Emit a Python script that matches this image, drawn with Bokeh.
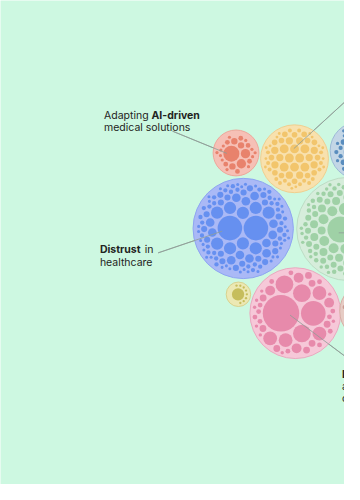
import math
import numpy as np
from bokeh.plotting import figure
from bokeh.models import Range1d, ColumnDataSource
from bokeh.embed import file_html
from bokeh.resources import INLINE
from bokeh.core.properties import value

# ---------------- data ----------------
cluster_names = ["Adapting AI-driven medical solutions", "Cluster B", "Cluster C",
                 "Distrust in healthcare", "Cluster E", "Cluster F", "Cluster G", "Cluster H"]
# layout position of each cluster (canvas units)
cluster_x = [246.5, 307.7, 375.0, 254.0, 364.0, 249.0, 308.5, 385.0]
cluster_y = [157.5, 163.5, 155.0, 235.5, 236.0, 303.5, 323.0, 321.0]
# cluster totals (area units)
cluster_value = [576, 1260, 900, 2756, 2916, 164, 2256, 900]

# inner topics per cluster: (weight, how many topics of that weight)
inner_red = [(100, 1), (34, 2), (16, 3), (9, 6), (4, 12)]
inner_yellow = [(30, 8), (20, 10), (12, 14), (6, 16), (3, 14)]
inner_steel = [(100, 1), (20, 3), (9, 10), (5, 14), (3, 10)]
inner_blue = [(225, 2), (56, 9), (28, 12), (14, 20), (7, 30), (3.5, 36)]
inner_green = [(169, 1), (36, 4), (25, 10), (16, 16), (9, 24), (5, 30), (3, 20)]
inner_olive = [(56, 1), (2, 8)]
inner_pink = [(342, 1), (156, 1), (81, 3), (49, 4), (25, 4), (12, 8), (6, 12), (3, 8)]
inner_brown = [(80, 1), (30, 3), (10, 8), (4, 10)]
inner_all = [inner_red, inner_yellow, inner_steel, inner_blue, inner_green,
             inner_olive, inner_pink, inner_brown]

outer_fill = ["#f6c0b6", "#f8e1ae", "#c3d6e6", "#aab9f6", "#d6eddb", "#ece8b4", "#f6c8d8", "#e6cbc4"]
outer_line = ["#eea79a", "#f0cf8f", "#9dbad6", "#8ea6f2", "#bcdcc4", "#d8d28e", "#eaa9c0", "#d7aea4"]
inner_fill = ["#e8826c", "#f2c56c", "#5a8dbe", "#6690f0", "#9fd1a6", "#c6bd5c", "#e78aab", "#c99a90"]

# annotation text lines: (text, style, x, baseline y)
label_text = ["Adapting ", "AI-driven", "medical solutions", "Distrust", "in", "healthcare",
              "Data privacy", "and security", "concerns"]
label_style = ["normal", "bold", "normal", "bold", "normal", "normal", "bold", "normal", "normal"]
label_x = [108.3, 158.0, 108.3, 104.0, 151.0, 104.0, 357.5, 357.5, 357.5]
label_y = [119.3, 119.3, 131.7, 257.3, 257.3, 270.7, 386.5, 399.0, 411.0]

# leader lines: start (label side) -> end (cluster side)
lead_x0 = [180.0, 165.0, 375.0, 372.0, 372.0]
lead_y0 = [135.0, 260.7, 91.5, 376.0, 240.0]
lead_x1 = [237.0, 232.0, 307.0, 303.0, 354.0]
lead_y1 = [158.0, 238.3, 153.0, 325.0, 240.0]

BG = "#cdf8e1"
PAD = 0.9


# ---------------- d3-style circle packing ----------------
def place(b, a, c):
    dx = b[0] - a[0]
    dy = b[1] - a[1]
    d2 = dx * dx + dy * dy
    if d2:
        a2 = (a[2] + c[2]) ** 2
        b2 = (b[2] + c[2]) ** 2
        if a2 > b2:
            x = (d2 + b2 - a2) / (2 * d2)
            y = math.sqrt(max(0.0, b2 / d2 - x * x))
            c[0] = b[0] - x * dx - y * dy
            c[1] = b[1] - x * dy + y * dx
        else:
            x = (d2 + a2 - b2) / (2 * d2)
            y = math.sqrt(max(0.0, a2 / d2 - x * x))
            c[0] = a[0] + x * dx - y * dy
            c[1] = a[1] + x * dy + y * dx
    else:
        c[0] = a[0] + c[2]
        c[1] = a[1]


def intersects(a, b):
    dr = a[2] + b[2] - 1e-6
    dx = b[0] - a[0]
    dy = b[1] - a[1]
    return dr > 0 and dr * dr > dx * dx + dy * dy


class Node:
    __slots__ = ("c", "next", "prev")

    def __init__(self, c):
        self.c = c
        self.next = None
        self.prev = None


def score(node):
    a = node.c
    b = node.next.c
    ab = a[2] + b[2]
    dx = (a[0] * b[2] + b[0] * a[2]) / ab
    dy = (a[1] * b[2] + b[1] * a[2]) / ab
    return dx * dx + dy * dy


def pack_siblings(circles):
    n = len(circles)
    a = circles[0]
    a[0] = 0.0
    a[1] = 0.0
    if n == 1:
        return
    b = circles[1]
    a[0] = -b[2]
    b[0] = a[2]
    b[1] = 0.0
    if n == 2:
        return
    place(b, a, circles[2])
    a = Node(a)
    b = Node(b)
    c = Node(circles[2])
    a.next = b
    c.prev = b
    b.next = c
    a.prev = c
    c.next = a
    b.prev = a
    i = 3
    while i < n:
        cc = circles[i]
        place(a.c, b.c, cc)
        c = Node(cc)
        j = b.next
        k = a.prev
        sj = b.c[2]
        sk = a.c[2]
        restart = False
        while True:
            if sj <= sk:
                if intersects(j.c, c.c):
                    b = j
                    a.next = b
                    b.prev = a
                    restart = True
                    break
                sj += j.c[2]
                j = j.next
            else:
                if intersects(k.c, c.c):
                    a = k
                    a.next = b
                    b.prev = a
                    restart = True
                    break
                sk += k.c[2]
                k = k.prev
            if j is k.next:
                break
        if restart:
            continue
        c.prev = a
        c.next = b
        a.next = c
        b.prev = c
        b = c
        aa = score(a)
        c = c.next
        while c is not b:
            ca = score(c)
            if ca < aa:
                a = c
                aa = ca
            c = c.next
        b = a.next
        i += 1


def enclose(circles):
    xs = np.array([c[0] for c in circles])
    ys = np.array([c[1] for c in circles])
    rs = np.array([c[2] for c in circles])
    cx, cy = float(xs.mean()), float(ys.mean())
    for it in range(1, 4000):
        d = np.hypot(xs - cx, ys - cy)
        i = int(np.argmax(d + rs))
        if d[i] == 0:
            fx, fy = xs[i] + rs[i], ys[i]
        else:
            fx = xs[i] + (xs[i] - cx) / d[i] * rs[i]
            fy = ys[i] + (ys[i] - cy) / d[i] * rs[i]
        cx += (fx - cx) / (it + 1)
        cy += (fy - cy) / (it + 1)
    R = float((np.hypot(xs - cx, ys - cy) + rs).max())
    return cx, cy, R


# ---------------- build glyph data ----------------
outer = dict(x=[], y=[], r=[], fill=[], line=[])
inner = dict(x=[], y=[], r=[], fill=[])
for ci in range(len(cluster_names)):
    R_out = math.sqrt(cluster_value[ci])
    weights = []
    for w, cnt in inner_all[ci]:
        weights += [w] * cnt
    weights.sort(reverse=True)
    circles = [[0.0, 0.0, math.sqrt(w) + PAD] for w in weights]
    pack_siblings(circles)
    ex, ey, ER = enclose(circles)
    k = (R_out - 1.6) / ER
    outer["x"].append(cluster_x[ci])
    outer["y"].append(cluster_y[ci])
    outer["r"].append(R_out)
    outer["fill"].append(outer_fill[ci])
    outer["line"].append(outer_line[ci])
    for c in circles:
        inner["x"].append(cluster_x[ci] + (c[0] - ex) * k)
        inner["y"].append(cluster_y[ci] + (c[1] - ey) * k)
        inner["r"].append((c[2] - PAD) * k)
        inner["fill"].append(inner_fill[ci])

# figure fits inside the window's 8px page margin; the ranges span the whole chart frame
p = figure(width=344, height=484, x_range=Range1d(0, 360), y_range=Range1d(500, 0),
           output_backend="svg", toolbar_location=None, min_border=0)
p.axis.visible = False
p.grid.visible = False
p.outline_line_color = None
p.background_fill_color = BG
p.border_fill_color = BG

p.segment(x0=lead_x0, y0=lead_y0, x1=lead_x1, y1=lead_y1, line_color="#9aaaa2", line_width=1)

p.circle(x="x", y="y", radius="r", source=ColumnDataSource(outer),
         fill_color="fill", line_color="line", line_width=1)
p.circle(x="x", y="y", radius="r", source=ColumnDataSource(inner),
         fill_color="fill", line_color=None)

p.segment(x0=lead_x0, y0=lead_y0, x1=lead_x1, y1=lead_y1, line_color="#8f9e97",
          line_width=1, line_alpha=0.8)

for t, s, x, y in zip(label_text, label_style, label_x, label_y):
    p.text(x=[x], y=[y], text=[t], text_font=value("Inter"), text_font_size="10.5px",
           text_font_style=s, text_color="#1f2421", text_baseline="alphabetic",
           text_align="left")

open("out.html", "w").write(file_html(p, INLINE))
